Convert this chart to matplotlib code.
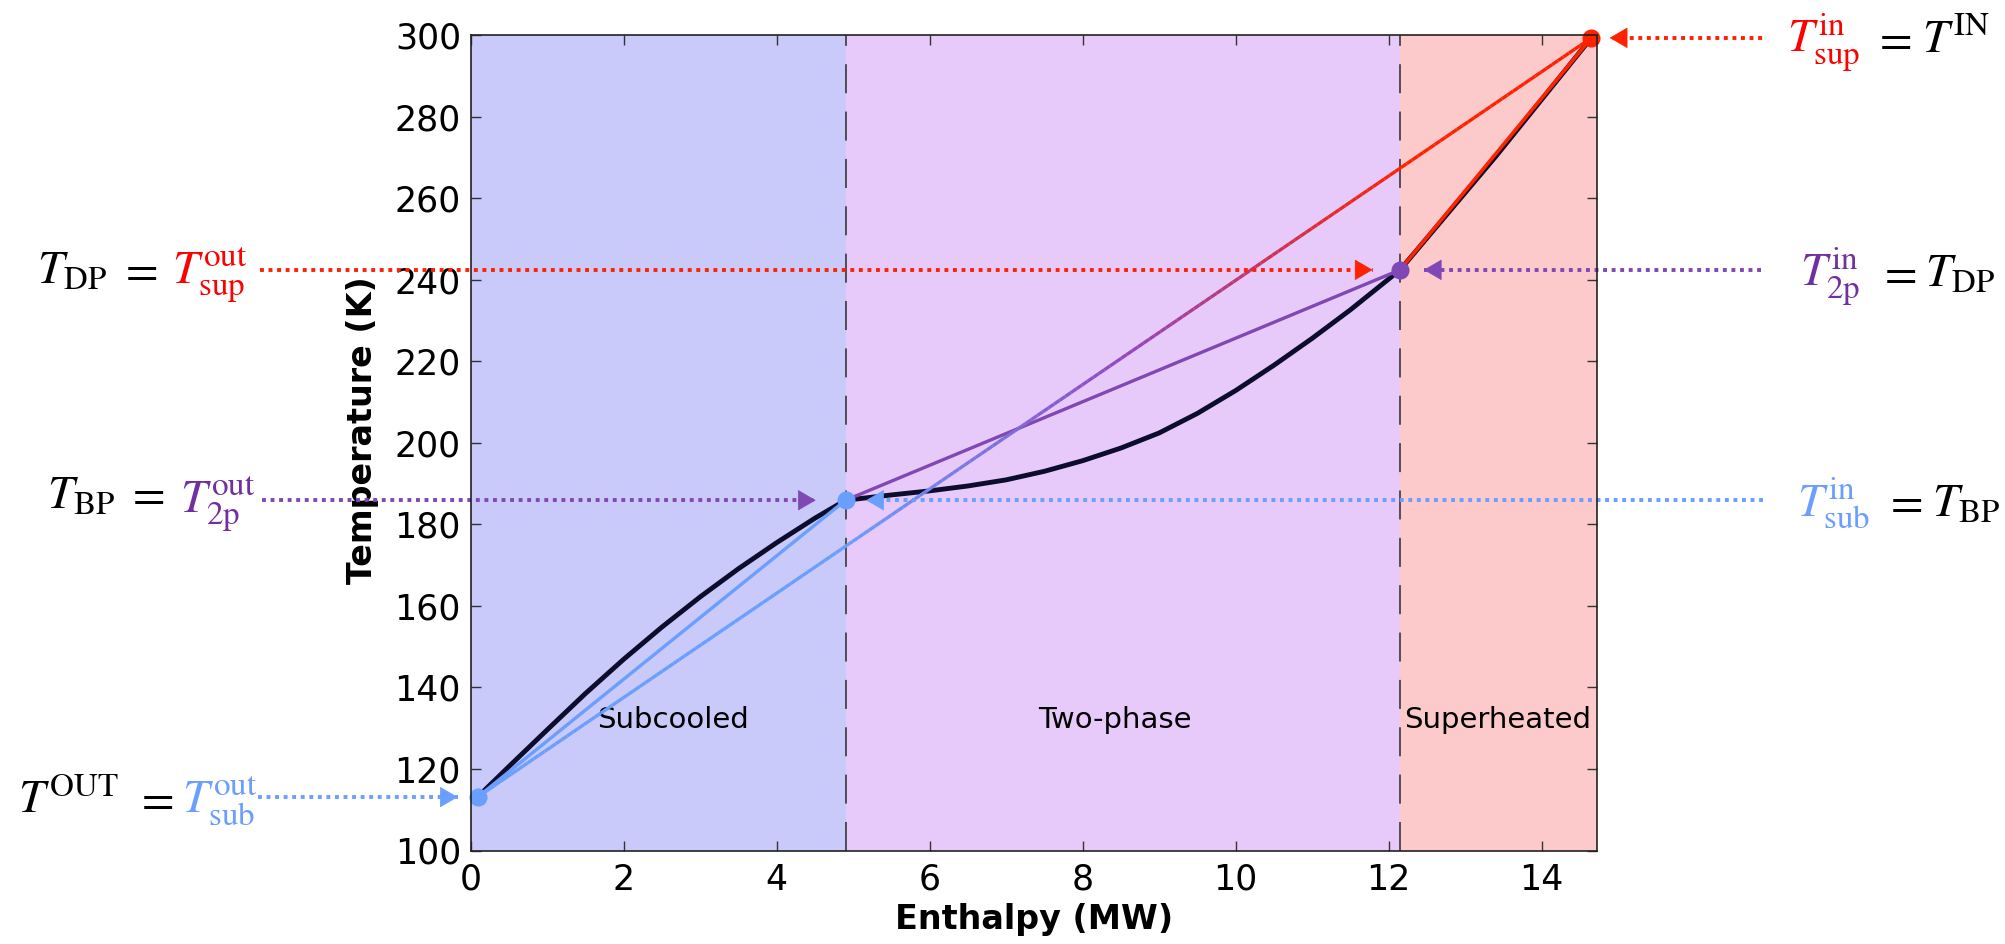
import numpy as np
import matplotlib
matplotlib.use("Agg")
import matplotlib.pyplot as plt
from matplotlib import transforms
from matplotlib.collections import LineCollection
from matplotlib.colors import LinearSegmentedColormap

plt.rcParams['font.family'] = 'DejaVu Sans'
plt.rcParams['mathtext.fontset'] = 'stix'

# Hot stream profile: enthalpy (MW) vs temperature (K)
h_sub = [0.09, 0.5, 1.0, 1.5, 2.0, 2.5, 3.0, 3.5, 4.0, 4.5, 4.90]
T_sub = [113.1, 120.6, 129.6, 138.5, 146.9, 154.8, 162.2, 169.1, 175.5, 181.5, 185.9]
h_2p = [4.90, 5.5, 6.0, 6.5, 7.0, 7.5, 8.0, 8.5, 9.0, 9.5, 10.0, 10.5, 11.0, 11.5, 12.15]
T_2p = [185.9, 187.2, 188.2, 189.4, 190.9, 193.0, 195.6, 198.7, 202.4, 207.2, 212.8, 219.0, 225.6, 232.6, 242.4]
h_sup = [12.15, 13.4, 14.65]
T_sup = [242.4, 270.2, 299.3]

# state points: outlet, bubble point, dew point, inlet
h_out, h_bp, h_dp, h_in = 0.09, 4.90, 12.15, 14.65
T_out, T_bp, T_dp, T_in = 113.1, 185.9, 242.4, 299.3

regions = ["Subcooled", "Two-phase", "Superheated"]
xticks = [0, 2, 4, 6, 8, 10, 12, 14]
yticks = [100, 120, 140, 160, 180, 200, 220, 240, 260, 280, 300]

BLUE = "#6a9eff"
PURPLE = "#8048b4"
RED = "#ff2200"

W, H = 2005, 944
fig = plt.figure(figsize=(W / 100, H / 100), dpi=100)
ax = fig.add_axes([470.7 / W, 1 - 850.5 / H, 1126 / W, 815.5 / H])
ax.set_xlim(0, 14.72)
ax.set_ylim(100, 300)

# phase regions
ax.axvspan(0, h_bp, color="#c9c9fa", lw=0, zorder=0)
ax.axvspan(h_bp, h_dp, color="#e8cafa", lw=0, zorder=0)
ax.axvspan(h_dp, 14.72, color="#fccaca", lw=0, zorder=0)
for xb in (h_bp, h_dp):
    ax.axvline(xb, color="#2a2a2a", lw=1.1, dashes=(19, 12), zorder=1)

ax.text((0 + h_bp) / 2 + 0.2, 132, regions[0], fontsize=21, ha="center", va="center")
ax.text((h_bp + h_dp) / 2 - 0.1, 132, regions[1], fontsize=21, ha="center", va="center")
ax.text(h_dp + 0.05, 132, regions[2], fontsize=21, ha="left", va="center")

# actual profile
ax.plot(h_sub + h_2p[1:] + h_sup[1:], T_sub + T_2p[1:] + T_sup[1:],
        color="#0c0c2c", lw=3.5, zorder=3, solid_capstyle="round")

# linear approximations
ax.plot([h_out, h_bp], [T_out, T_bp], color=BLUE, lw=2.4, zorder=4)
ax.plot([h_bp, h_dp], [T_bp, T_dp], color=PURPLE, lw=2.4, zorder=4)
ax.plot([h_dp, h_in], [T_dp, T_in], color=RED, lw=2.6, zorder=4)

# single-segment approximation, coloured by the region it crosses
span = h_in - h_out
cmap = LinearSegmentedColormap.from_list("phase", [
    (0.0, BLUE),
    ((h_bp - h_out) / span, BLUE),
    (((h_bp + h_dp) / 2 - h_out) / span, "#9048c0"),
    ((h_dp - h_out) / span, RED),
    (1.0, RED)])
hx = np.linspace(h_out, h_in, 200)
ty = T_out + (T_in - T_out) * (hx - h_out) / span
segs = np.stack([np.column_stack([hx[:-1], ty[:-1]]), np.column_stack([hx[1:], ty[1:]])], axis=1)
lc = LineCollection(segs, colors=cmap((hx[:-1] - h_out) / span), lw=2.4, zorder=4)
ax.add_collection(lc)

# state markers
ax.plot([h_out, h_bp], [T_out, T_bp], "o", color=BLUE, ms=12, zorder=6, clip_on=False)
ax.plot([h_dp], [T_dp], "o", color=PURPLE, ms=12, zorder=6, clip_on=False)
ax.plot([h_in], [T_in], "o", color=RED, ms=12, zorder=6, clip_on=False)

ax.set_xticks(xticks)
ax.set_yticks(yticks)
ax.tick_params(direction="in", top=True, right=True, length=7, width=1,
               labelsize=25, color="#333333", pad=9)
ax.tick_params(axis="y", pad=7)
for sp in ax.spines.values():
    sp.set_color("#222222")
    sp.set_linewidth(1.2)
    sp.set_zorder(7)
ax.set_xlabel("Enthalpy (MW)", fontsize=24, fontweight="bold", labelpad=4)
ax.set_ylabel("Temperature (K)", fontsize=24, fontweight="bold")
ax.yaxis.set_label_coords(-0.081, 0.515)

blend = transforms.blended_transform_factory(fig.transFigure, ax.transData)
to_data = ax.transData.inverted()


def pointer(x_px, T, x_tip, color):
    # dotted leader from the label (figure pixel x) to the state point
    x_start = to_data.transform((x_px, 0))[0]
    ax.plot([x_start, x_tip], [T, T], color=color, lw=2.8, dashes=(1.0, 1.2),
            clip_on=False, zorder=5)
    side = -1 if x_px / W < 0.5 else 1
    ax.annotate("", xy=(x_tip, T), xytext=(side * 12, 0), textcoords="offset points",
                arrowprops=dict(arrowstyle="-|>,head_length=0.48,head_width=0.28",
                                mutation_scale=25, lw=0.5, color=color,
                                shrinkA=0, shrinkB=0),
                annotation_clip=False, zorder=5)


def label(x_px, T, dy_px, s, color="black"):
    tr = transforms.offset_copy(blend, fig=fig, x=0, y=-dy_px, units="dots")
    fig.text(x_px / W, T, s, transform=tr, color=color, fontsize=34,
             ha="left", va="baseline")


# left-hand side: outlets of each zone
pointer(260, T_dp, 11.79, RED)
pointer(262, T_bp, 4.51, PURPLE)
pointer(258, T_out, -0.17, BLUE)
label(37, T_dp, 14, r"$T_{\mathrm{DP}}$")
label(119, T_dp, 14, r"$=$")
label(172, T_dp, 14, r"$T_{\mathrm{sup}}^{\mathrm{out}}$", "#ff0000")
label(47, T_bp, 8, r"$T_{\mathrm{BP}}$")
label(126, T_bp, 8, r"$=$")
label(180, T_bp, 12, r"$T_{\mathrm{2p}}^{\mathrm{out}}$", "#7030a0")
label(18, T_out, 16, r"$T^{\mathrm{OUT}}$")
label(135, T_out, 16, r"$=$")
label(182, T_out, 16, r"$T_{\mathrm{sub}}^{\mathrm{out}}$", BLUE)

# right-hand side: inlets of each zone
pointer(1762, T_in, 14.89, RED)
pointer(1761, T_dp, 12.46, PURPLE)
pointer(1763, T_bp, 5.17, BLUE)
label(1787, T_in, 15, r"$T_{\mathrm{sup}}^{\mathrm{in}}$", "#ff0000")
label(1873, T_in, 15, r"$=$")
label(1922, T_in, 15, r"$T^{\mathrm{IN}}$")
label(1800, T_dp, 17, r"$T_{\mathrm{2p}}^{\mathrm{in}}$", "#7030a0")
label(1878, T_dp, 17, r"$=$")
label(1925, T_dp, 17, r"$T_{\mathrm{DP}}$")
label(1797, T_bp, 16, r"$T_{\mathrm{sub}}^{\mathrm{in}}$", BLUE)
label(1884, T_bp, 16, r"$=$")
label(1932, T_bp, 16, r"$T_{\mathrm{BP}}$")

fig.savefig("out.png", dpi=100)
